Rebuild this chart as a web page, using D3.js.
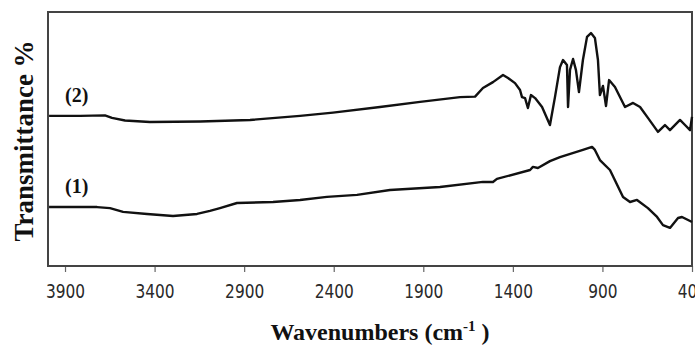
<!DOCTYPE html>
<html>
<head>
<meta charset="utf-8">
<script src="https://cdn.jsdelivr.net/npm/d3@7"></script>
<style>
  body { margin: 0; background: #fff; }
  svg { display: block; }
</style>
</head>
<body>
<svg id="chart"></svg>
<script>
// spectrum (2) - wavenumber (cm-1) / transmittance (a.u.)
const wn2 = [3989, 3816, 3677, 3638, 3565, 3426, 3146, 2867, 2588, 2404, 2142, 1918, 1695, 1611, 1567, 1511, 1455, 1427, 1388, 1360, 1349, 1332, 1316, 1299, 1276, 1237, 1193, 1165, 1137, 1120, 1098, 1092, 1081, 1064, 1048, 1031, 1009, 986, 964, 942, 925, 914, 897, 880, 863, 830, 774, 729, 690, 646, 590, 551, 523, 467, 439, 411, 400];
const t2 = [59.1, 59.1, 59.3, 58.3, 57.3, 56.7, 56.9, 57.5, 59.1, 60.4, 62.6, 64.6, 66.5, 66.7, 70.1, 72.4, 75.2, 74.0, 72.0, 69.3, 66.5, 66.1, 62.2, 67.3, 66.1, 62.6, 55.5, 66.5, 78.3, 81.1, 79.1, 62.6, 77.2, 81.5, 77.2, 68.5, 81.1, 90.2, 91.7, 89.8, 81.1, 67.3, 70.9, 63.0, 73.2, 70.5, 62.6, 64.2, 62.6, 58.3, 52.8, 55.5, 53.5, 57.5, 55.5, 53.5, 58.7];

// spectrum (1)
const wn1 = [3989, 3721, 3649, 3576, 3442, 3297, 3163, 3091, 3035, 2940, 2739, 2588, 2438, 2270, 2086, 1807, 1567, 1511, 1489, 1304, 1288, 1260, 1193, 1137, 1009, 958, 942, 914, 858, 785, 746, 707, 646, 595, 562, 523, 478, 456, 422, 400];
const t1 = [23.2, 23.2, 22.8, 21.3, 20.5, 19.7, 20.5, 21.7, 22.8, 24.8, 25.2, 26.0, 27.2, 28.0, 29.9, 31.1, 33.1, 33.1, 34.3, 37.8, 39.0, 38.6, 41.3, 42.9, 45.7, 46.9, 45.7, 41.7, 37.8, 27.2, 25.2, 26.0, 22.8, 19.3, 16.1, 15.0, 18.9, 19.3, 18.1, 17.3];

const tickValues = [3900, 3400, 2900, 2400, 1900, 1400, 900, 400];
const seriesNames = ['(1)', '(2)'];

const svgWidth = 695;
const svgHeight = 346;
const margin = {top: 12, right: 3, bottom: 80, left: 48};
const width = svgWidth - margin.left - margin.right;
const height = svgHeight - margin.top - margin.bottom;

const svg = d3.select('#chart')
  .attr('width', svgWidth)
  .attr('height', svgHeight);

const chart = svg.append('g')
  .attr('transform', `translate(${margin.left}, ${margin.top})`);

/***************** scales *****************/
const xScale = d3.scaleLinear()
  .domain([3995, 400])
  .range([0, width]);

const yScale = d3.scaleLinear()
  .domain([0, 100])
  .range([height, 0]);

/***************** x axis *****************/
const xAxis = chart.append('g')
  .attr('transform', `translate(0, ${height})`)
  .call(d3.axisBottom(xScale)
    .tickValues(tickValues)
    .tickSize(6)
    .tickPadding(13)
    .tickFormat(d3.format('d')));

xAxis.select('.domain').remove();
xAxis.selectAll('.tick line')
  .attr('stroke', '#666')
  .attr('stroke-width', 1.2);
// condensed look of the original tick font
xAxis.selectAll('.tick text')
  .attr('fill', '#2a2a2a')
  .attr('transform', 'scale(0.9, 1)')
  .attr('x', function () { return 0; })
  .style('font-family', '"DejaVu Sans Condensed", "DejaVu Sans", sans-serif')
  .style('font-stretch', 'condensed')
  .style('font-size', '19px');

/***************** frame *****************/
chart.append('rect')
  .attr('x', 0)
  .attr('y', 0)
  .attr('width', width)
  .attr('height', height)
  .attr('fill', 'none')
  .attr('stroke', '#444')
  .attr('stroke-width', 2);

/***************** spectra *****************/
const line = d3.line()
  .x((d) => xScale(d[0]))
  .y((d) => yScale(d[1]))
  .curve(d3.curveLinear);

const series = [
  {name: seriesNames[0], data: d3.zip(wn1, t1)},
  {name: seriesNames[1], data: d3.zip(wn2, t2)}
];

chart.selectAll('.spectrum')
  .data(series)
  .enter()
  .append('path')
  .attr('class', 'spectrum')
  .attr('d', (s) => line(s.data))
  .attr('fill', 'none')
  .attr('stroke', '#111')
  .attr('stroke-width', 2.4)
  .attr('stroke-linejoin', 'round');

// series labels sit just above the flat start of each curve
chart.selectAll('.series-label')
  .data(series)
  .enter()
  .append('text')
  .attr('class', 'series-label')
  .attr('x', xScale(3835))
  .attr('y', (s) => yScale(s.data[0][1]) - 14)
  .attr('text-anchor', 'middle')
  .style('font-family', '"Liberation Serif", "DejaVu Serif", serif')
  .style('font-weight', 'bold')
  .style('font-size', '20px')
  .attr('fill', '#111')
  .text((s) => s.name);

/***************** titles *****************/
const xTitle = svg.append('text')
  .attr('x', 380)
  .attr('y', 340)
  .attr('text-anchor', 'middle')
  .style('font-family', '"Liberation Serif", "DejaVu Serif", serif')
  .style('font-weight', 'bold')
  .style('font-size', '24px')
  .attr('fill', '#111');
xTitle.append('tspan').text('Wavenumbers (cm');
xTitle.append('tspan').attr('dy', -9).style('font-size', '15px').text('-1');
xTitle.append('tspan').attr('dy', 9).text(' )');

svg.append('text')
  .attr('transform', 'translate(33, 141) rotate(-90)')
  .attr('text-anchor', 'middle')
  .style('font-family', '"Liberation Serif", "DejaVu Serif", serif')
  .style('font-weight', 'bold')
  .style('font-size', '27px')
  .attr('fill', '#111')
  .text('Transmittance %');
</script>
</body>
</html>
